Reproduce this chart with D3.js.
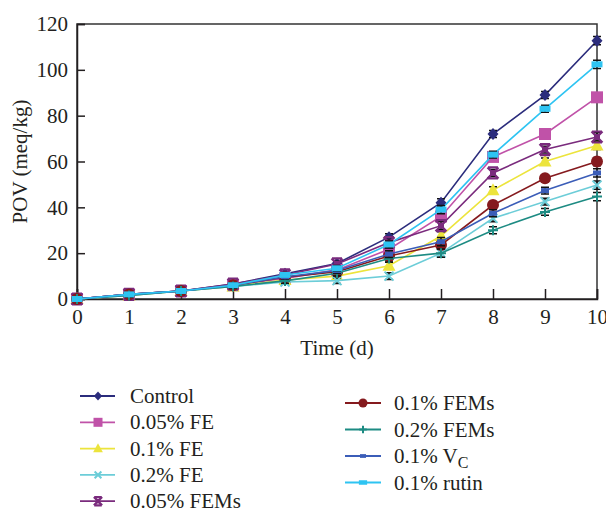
<!DOCTYPE html>
<html><head><meta charset="utf-8">
<script src="https://cdn.jsdelivr.net/npm/d3@7/dist/d3.min.js"></script>
<style>
body{margin:0;background:#fff;}
svg{display:block;}
text{font-family:"Liberation Serif","Times New Roman",serif;fill:#231f20;}
</style></head>
<body><svg id="c" width="606" height="513"></svg>
<script>
const days = [0,1,2,3,4,5,6,7,8,9,10];
const xTicks = [0,1,2,3,4,5,6,7,8,9,10];
const yTicks = [0,20,40,60,80,100,120];
const seriesNames = ["Control","0.05% FE","0.1% FE","0.2% FE","0.05% FEMs","0.1% FEMs","0.2% FEMs","0.1% VC","0.1% rutin"];
const control   = [0,2,3.5,6.5,11,15.5,27,42,72,89,112.7];
const fe005     = [0,2,3.5,6,9,12.7,21.7,36,62,72,88];
const fe01      = [0,1.5,3.5,5.5,8.3,10,14.5,27.5,47.5,60,67];
const fe02      = [0,1.5,3.5,5.5,7.4,8,10,20,35.2,42.5,49.7];
const fems005   = [0,2,3.5,6.5,10.5,15.3,24.6,32,55,65.2,70.7];
const fems01    = [0,2,3.5,6,9.5,11.9,18.8,23.6,41,52.7,60];
const fems02    = [0,1.5,3.5,5.5,7.9,11.2,17.7,20,30,38,44.7];
const vc        = [0,2,3.5,6,9.7,12.4,19.6,25,37.4,47.3,55];
const rutin     = [0,2,3.5,6,10.5,13.4,23.8,39,63,83,102.4];
const errs      = [0,0.6,0.6,0.8,1,1.2,1.5,1.8,1.5,1.5,1.8];

const colors = ["#2b2c7c","#c052a8","#ece43c","#6ccdd8","#7a2b7d","#851a1e","#1d8b83","#3b5db8","#2ec4f2"];
const shapes = ["diamond","square","triangle","cross","star","circle","plus","dash","rect"];
const values = [control,fe005,fe01,fe02,fems005,fems01,fems02,vc,rutin];

const svg = d3.select("#c");
const L=77,R=597,T=24,B=299;
const x = d3.scaleLinear().domain([0,10]).range([L,R]);
const y = d3.scaleLinear().domain([0,120]).range([B,T]);

svg.append("rect").attr("x",L).attr("y",T).attr("width",R-L).attr("height",B-T)
  .attr("fill","none").attr("stroke","#333").attr("stroke-width",1.5);

const xa = svg.append("g").attr("transform",`translate(0,${B})`)
  .call(d3.axisBottom(x).tickValues(xTicks).tickSize(-10).tickPadding(10).tickFormat(d3.format("d")));
const ya = svg.append("g").attr("transform",`translate(${L},0)`)
  .call(d3.axisLeft(y).tickValues(yTicks).tickSize(-8).tickPadding(9));
[xa,ya].forEach(g=>{
  g.select(".domain").attr("stroke","#231f20").attr("stroke-width",1.5);
  g.selectAll(".tick line").attr("stroke","#231f20").attr("stroke-width",1.5);
  g.selectAll(".tick text").style("font-size","21px").attr("fill","#231f20")
   .style("font-family",'"Liberation Serif","Times New Roman",serif');
});
xa.selectAll(".tick text").attr("dy","0.72em");

svg.append("text").attr("x",(L+R)/2).attr("y",355).attr("text-anchor","middle")
  .style("font-size","21px").text("Time (d)");
svg.append("text").attr("transform",`translate(27,${(T+B)/2}) rotate(-90)`).attr("text-anchor","middle")
  .style("font-size","21px").text("POV (meq/kg)");

function marker(g, shape, color, cx, cy, s){
  s = s||1;
  if(shape==="diamond"){
    g.append("path").attr("d",`M${cx},${cy-6*s}L${cx+5.5*s},${cy}L${cx},${cy+6*s}L${cx-5.5*s},${cy}Z`).attr("fill",color);
  } else if(shape==="square"){
    g.append("rect").attr("x",cx-6*s).attr("y",cy-6*s).attr("width",12*s).attr("height",12*s).attr("fill",color);
  } else if(shape==="triangle"){
    g.append("path").attr("d",`M${cx},${cy-7*s}L${cx+6.5*s},${cy+5*s}L${cx-6.5*s},${cy+5*s}Z`).attr("fill",color);
  } else if(shape==="cross"){
    g.append("path").attr("d",`M${cx-4.5*s},${cy-4.5*s}L${cx+4.5*s},${cy+4.5*s}M${cx+4.5*s},${cy-4.5*s}L${cx-4.5*s},${cy+4.5*s}`)
      .attr("stroke",color).attr("stroke-width",2);
  } else if(shape==="star"){
    g.append("path").attr("d",`M${cx-5.5*s},${cy-5.5*s}L${cx+5.5*s},${cy+5.5*s}M${cx+5.5*s},${cy-5.5*s}L${cx-5.5*s},${cy+5.5*s}M${cx-5*s},${cy-5.5*s}H${cx+5*s}M${cx-5*s},${cy+5.5*s}H${cx+5*s}`)
      .attr("stroke",color).attr("stroke-width",2.2);
    g.append("rect").attr("x",cx-3*s).attr("y",cy-3*s).attr("width",6*s).attr("height",6*s).attr("fill",color);
  } else if(shape==="circle"){
    g.append("circle").attr("cx",cx).attr("cy",cy).attr("r",6*s).attr("fill",color);
  } else if(shape==="plus"){
    g.append("path").attr("d",`M${cx-5*s},${cy}H${cx+5*s}M${cx},${cy-5*s}V${cy+5*s}`)
      .attr("stroke",color).attr("stroke-width",2);
  } else if(shape==="dash"){
    g.append("rect").attr("x",cx-4*s).attr("y",cy-2.5*s).attr("width",8*s).attr("height",5*s).attr("fill",color);
  } else if(shape==="rect"){
    g.append("rect").attr("x",cx-5.5*s).attr("y",cy-3*s).attr("width",11*s).attr("height",6*s).attr("fill",color);
  }
}

const line = d3.line().x((d,i)=>x(days[i])).y(d=>y(d));
values.forEach((vals,k)=>{
  const g = svg.append("g");
  g.append("path").datum(vals).attr("d",line).attr("fill","none")
    .attr("stroke",colors[k]).attr("stroke-width",1.6);
  vals.forEach((v,i)=>{
    const e = errs[i];
    if(e>0){
      const cx=x(days[i]);
      g.append("path").attr("d",`M${cx},${y(v+e)}V${y(v-e)}M${cx-4},${y(v+e)}H${cx+4}M${cx-4},${y(v-e)}H${cx+4}`)
        .attr("stroke","#111").attr("stroke-width",1.5).attr("fill","none");
    }
    marker(g, shapes[k], colors[k], x(days[i]), y(v));
  });
});

const leg = svg.append("g");
const col1 = {lx1:80,lx2:115,mx:98,tx:130,y0:396,dy:26.3};
const col2 = {lx1:345,lx2:381,mx:363,tx:394,y0:403,dy:26.5};
seriesNames.forEach((name,k)=>{
  const c = k<5?col1:col2;
  const j = k<5?k:k-5;
  const yy = c.y0 + j*c.dy;
  leg.append("line").attr("x1",c.lx1).attr("x2",c.lx2).attr("y1",yy).attr("y2",yy)
    .attr("stroke",colors[k]).attr("stroke-width",1.8);
  marker(leg, shapes[k], colors[k], c.mx, yy, 0.75);
  const t = leg.append("text").attr("x",c.tx).attr("y",yy+7).style("font-size","21px");
  if(name==="0.1% VC"){
    t.append("tspan").text("0.1% V");
    t.append("tspan").attr("dy",5).style("font-size","16px").text("C");
  } else t.text(name);
});
</script></body></html>
